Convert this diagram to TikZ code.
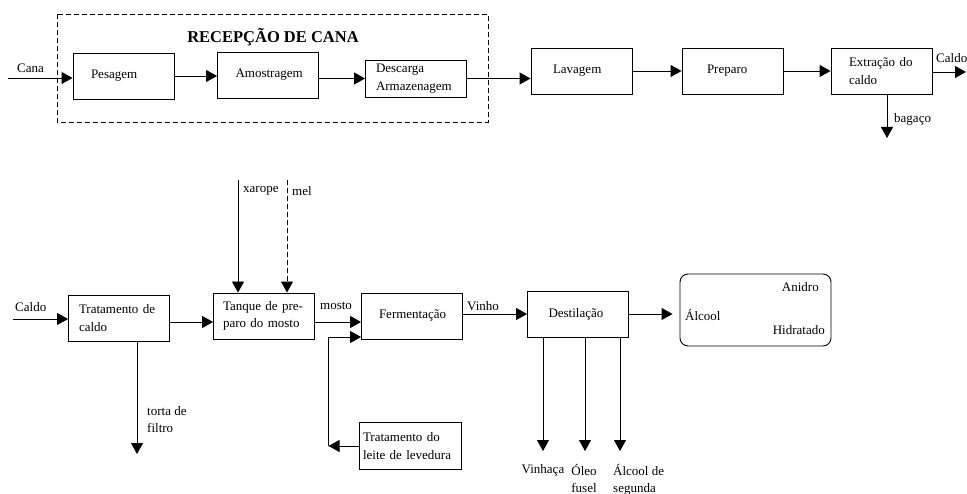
\documentclass[tikz,border=0pt]{standalone}
\usepackage{fontspec}
\setmainfont{Liberation Serif}
\usetikzlibrary{arrows.meta,calc,positioning}

\begin{document}
\begin{tikzpicture}[x=1pt,y=-1pt,
  font=\fontsize{13}{17.5}\selectfont,
  blk/.style={draw,line width=0.9pt,minimum width=101pt,minimum height=46pt,
    inner xsep=0pt,text width=#1,align=left},
  blk/.default=65pt,
  arr/.style={line width=0.9pt,-{Triangle[length=11pt,width=12pt]}},
  lbl/.style={inner sep=0pt}]
  \useasboundingbox (0,0) rectangle (967,494);

  % Recepcao de cana
  \draw[line width=0.9pt,dash pattern=on 5pt off 3pt] (57,14) rectangle (488,122);
  \node (titulo) at (273,37) {\fontsize{16.5}{18}\selectfont\bfseries RECEPÇÃO DE CANA};

  % Top line
  \node[blk] (pes) at (123.5,76) {Pesagem};
  \node[blk] (amo) at (268,75) {Amostragem};
  \node[blk=80pt,minimum height=37pt] (desc) at (416,78.5) {Descarga\\Armazenagem};
  \node[blk=57pt] (lav) at (581.5,71) {Lavagem};
  \node[blk=51pt] (prep) at (732.5,71) {Preparo};
  \node[blk=65pt] (ext) at (881.5,71) {Extração do\\caldo};

  \coordinate (cana) at (8,78);
  \node[lbl,anchor=west] (canalbl) at (17,68) {Cana};
  \draw[arr] (cana) -- (cana -| pes.west);
  \draw[arr] (pes.east) -- (pes.east -| amo.west);
  \draw[arr] (amo.east |- desc) -- (desc.west);
  \draw[arr] (desc.east) -- (desc.east -| lav.west);
  \draw[arr] (lav.east) -- (prep.west);
  \draw[arr] (prep.east) -- (ext.west);

  \coordinate (caldoout) at (966,72);
  \node[lbl,anchor=west] (caldooutlbl) at (936,58) {Caldo};
  \draw[arr] (ext.east |- caldoout) -- (caldoout);
  \coordinate (bag) at (887,138);
  \node[lbl,anchor=west] (baglbl) at (894,119) {bagaço};
  \draw[arr] (bag |- ext.south) -- (bag);

  % Bottom line
  \node[blk=80pt] (trat) at (119,318) {Tratamento de\\caldo};
  \node[blk=82pt] (tanq) at (264,316) {Tanque de pre-\\paro do mosto};
  \node[blk=66pt] (ferm) at (412,316) {Fermentação};
  \node[blk=59pt] (dest) at (578,314) {Destilação};
  \node[blk=94pt,minimum width=102pt,minimum height=47pt] (leite) at (410,446) {Tratamento do\\leite de levedura};
  \node[draw,line width=0.9pt,rounded corners=8pt,minimum width=151pt,minimum height=72pt] (alc) at (755.5,310) {};
  \node[lbl,anchor=east] (anidro) at (819,287) {Anidro};
  \node[lbl,anchor=west] (alcool) at (685,315) {Álcool};
  \node[lbl,anchor=east] (hidr) at (825,330) {Hidratado};

  \coordinate (caldoin) at (13,319);
  \node[lbl,anchor=west] (caldoinlbl) at (15,307) {Caldo};
  \draw[arr] (caldoin) -- (caldoin -| trat.west);
  \draw[arr] ([yshift=-4pt]trat.east) -- ([yshift=-4pt]trat.east -| tanq.west);

  \coordinate (xar) at (238,180);
  \coordinate (mel) at (287,180);
  \node[lbl,anchor=west] (xarlbl) at (243,191) {xarope};
  \node[lbl,anchor=west] (mellbl) at (292,191) {mel};
  \draw[arr] (xar) -- (xar |- tanq.north);
  \draw[arr,dash pattern=on 5pt off 3pt] (mel) -- (mel |- tanq.north);

  \node[lbl,anchor=west] (mostolbl) at (320,306) {mosto};
  \draw[arr] ([yshift=-6pt]tanq.east) -- ([yshift=-6pt]tanq.east -| ferm.west);
  \coordinate[left=30pt of leite.west] (jn);
  \draw[arr] (leite.west) -- (jn);
  \draw[arr] (jn) |- ([yshift=-21pt]ferm.west);

  \node[lbl,anchor=west] (vinholbl) at (467,306) {Vinho};
  \draw[arr] (ferm.east |- dest) -- (dest.west);
  \draw[arr] (dest.east) -- ([xshift=-7pt]dest.east -| alc.west);

  \coordinate (torta) at (137,454);
  \node[lbl,anchor=north west,align=left] (tortalbl) at (147,406) {torta de\\filtro};
  \draw[arr] (torta |- trat.south) -- (torta);

  % Destilacao outputs
  \coordinate (vinh) at (543,451);
  \coordinate (oleo) at (585,451);
  \coordinate (seg) at (620,451);
  \draw[arr] (vinh |- dest.south) -- (vinh);
  \draw[arr] (oleo |- dest.south) -- (oleo);
  \draw[arr] (seg |- dest.south) -- (seg);
  \node[lbl,anchor=north] (vinhlbl) at (543,464) {Vinhaça};
  \node[lbl,anchor=north,align=center] (oleolbl) at (584,464) {Óleo\\fusel};
  \node[lbl,anchor=north west,align=left] (seglbl) at (613,464) {Álcool de\\segunda};
\end{tikzpicture}
\end{document}
